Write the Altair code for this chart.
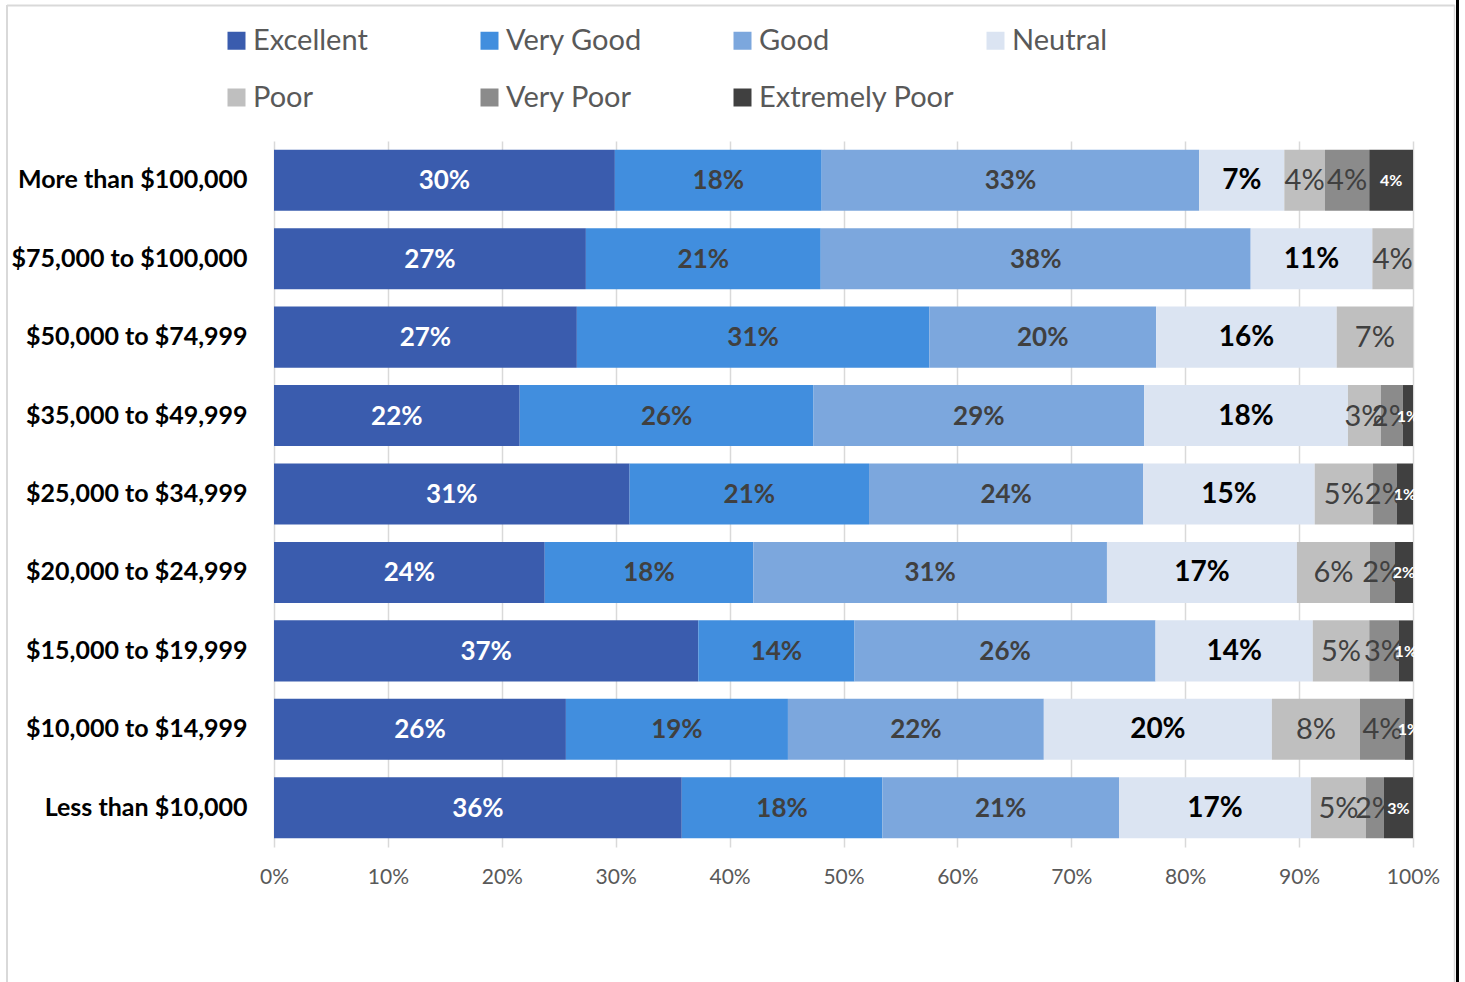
import altair as alt
import pandas as pd

# Income brackets, top to bottom
incomes = [
    "More than $100,000",
    "$75,000 to $100,000",
    "$50,000 to $74,999",
    "$35,000 to $49,999",
    "$25,000 to $34,999",
    "$20,000 to $24,999",
    "$15,000 to $19,999",
    "$10,000 to $14,999",
    "Less than $10,000",
]

ratings = ["Excellent", "Very Good", "Good", "Neutral", "Poor", "Very Poor", "Extremely Poor"]
rating_colors = ["#3A5CAE", "#418EDE", "#7CA7DD", "#DBE4F2", "#BFBFBF", "#8B8B8B", "#404040"]

# Share of respondents (%) per rating, one value per income bracket
excellent = [29.93, 27.38, 26.59, 21.57, 31.22, 23.77, 37.26, 25.61, 35.80]
very_good = [18.16, 20.62, 30.94, 25.80, 21.02, 18.31, 13.72, 19.48, 17.61]
good = [33.15, 37.74, 19.92, 29.02, 24.08, 31.05, 26.43, 22.45, 20.78]
neutral = [7.47, 10.68, 15.85, 17.90, 15.05, 16.68, 13.81, 20.01, 16.85]
poor = [3.57, 3.57, 6.70, 2.90, 5.12, 6.41, 4.96, 7.73, 4.83]
very_poor = [3.89, 0, 0, 1.91, 2.08, 2.17, 2.58, 3.95, 1.58]
extremely_poor = [3.84, 0, 0, 0.90, 1.43, 1.61, 1.26, 0.70, 2.55]

series = [excellent, very_good, good, neutral, poor, very_poor, extremely_poor]

rows = []
for k, (rating, vals) in enumerate(zip(ratings, series)):
    for income, v in zip(incomes, vals):
        if v > 0:
            rows.append({"income": income, "rating": rating, "k": k, "pct": v})
df = pd.DataFrame(rows)

FONT = "Lato"
W, H = 1139, 706
PAD_L, PAD_T = 274, 141

x_scale = alt.Scale(domain=[0, 1], nice=False)
y_enc = alt.Y(
    "income:N",
    sort=incomes,
    scale=alt.Scale(paddingInner=0.222, paddingOuter=0.111),
    axis=alt.Axis(
        title=None, domain=False, ticks=False, labelPadding=27,
        labelFont=FONT, labelFontSize=25, labelFontWeight="bold",
        labelColor="#000000", labelLimit=400,
    ),
)

base = (
    alt.Chart(df)
    .transform_stack(
        stack="pct", groupby=["income"], as_=["x0", "x1"],
        offset="normalize", sort=[alt.SortField("k", order="ascending")],
    )
    .transform_calculate(
        mid="(datum.x0 + datum.x1) / 2",
        label="round(datum.pct) + '%'",
    )
)

bars = base.mark_bar().encode(
    x=alt.X(
        "x0:Q", scale=x_scale,
        axis=alt.Axis(
            title=None, format=".0%", values=[i / 10 for i in range(11)],
            domain=False, ticks=False, labelPadding=19, labelFlush=False,
            labelFont=FONT, labelFontSize=21, labelColor="#595959",
            grid=True, gridColor="#D9D9D9", gridWidth=1.5,
        ),
    ),
    x2="x1:Q",
    y=y_enc,
    color=alt.Color(
        "rating:N",
        scale=alt.Scale(domain=ratings, range=rating_colors),
        sort=ratings,
        legend=alt.Legend(
            title=None, orient="none", legendX=-52, legendY=-115,
            direction="horizontal", columns=4, gridAlign="all",
            columnPadding=26, rowPadding=27, padding=0,
            symbolType="square", symbolSize=324, symbolStrokeWidth=0,
            labelFont=FONT, labelFontSize=29, labelColor="#595959",
            labelOffset=2, labelLimit=400,
        ),
    ),
    order=alt.Order("k:Q"),
)


def labels(names, color, size, weight):
    return base.transform_filter(
        alt.FieldOneOfPredicate(field="rating", oneOf=names)
    ).mark_text(
        font=FONT, fontSize=size, fontWeight=weight, color=color,
        align="center", baseline="middle", dy=1,
    ).encode(
        x=alt.X("mid:Q", scale=x_scale),
        y=alt.Y("income:N", sort=incomes),
        text="label:N",
    )


text_layers = [
    labels(["Excellent"], "#FFFFFF", 26, "bold"),
    labels(["Very Good", "Good"], "#404040", 26, "bold"),
    labels(["Neutral"], "#000000", 28, "bold"),
    labels(["Poor", "Very Poor"], "#404040", 29, "normal"),
    labels(["Extremely Poor"], "#FFFFFF", 16, "bold"),
]

# Outer frame around the whole chart
frame_df = pd.DataFrame({"f": [0]})
frame = alt.Chart(frame_df)
frame_left = frame.mark_rule(color="#D9D9D9", strokeWidth=2).encode(
    x=alt.value(7 - PAD_L), y=alt.value(5 - PAD_T), y2=alt.value(982 - PAD_T)
)
frame_top = frame.mark_rule(color="#D9D9D9", strokeWidth=2).encode(
    x=alt.value(7 - PAD_L), x2=alt.value(1455 - PAD_L), y=alt.value(5.5 - PAD_T)
)
frame_right = frame.mark_rule(color="#D9D9D9", strokeWidth=1.5).encode(
    x=alt.value(1454.5 - PAD_L), y=alt.value(5 - PAD_T), y2=alt.value(982 - PAD_T)
)
frame_edge = frame.mark_rule(color="#000000", strokeWidth=3).encode(
    x=alt.value(1457.5 - PAD_L), y=alt.value(0 - PAD_T), y2=alt.value(982 - PAD_T)
)

chart = (
    alt.layer(bars, *text_layers, frame_left, frame_top, frame_right, frame_edge)
    .properties(
        width=W,
        height=H,
        autosize=alt.AutoSizeParams(type="none"),
        padding={"left": PAD_L, "top": PAD_T, "right": 1465 - PAD_L - W, "bottom": 982 - PAD_T - H},
        background="#FFFFFF",
    )
    .configure_view(stroke=None)
)

chart.save("out.html", embed_options={"renderer": "svg", "actions": False})
